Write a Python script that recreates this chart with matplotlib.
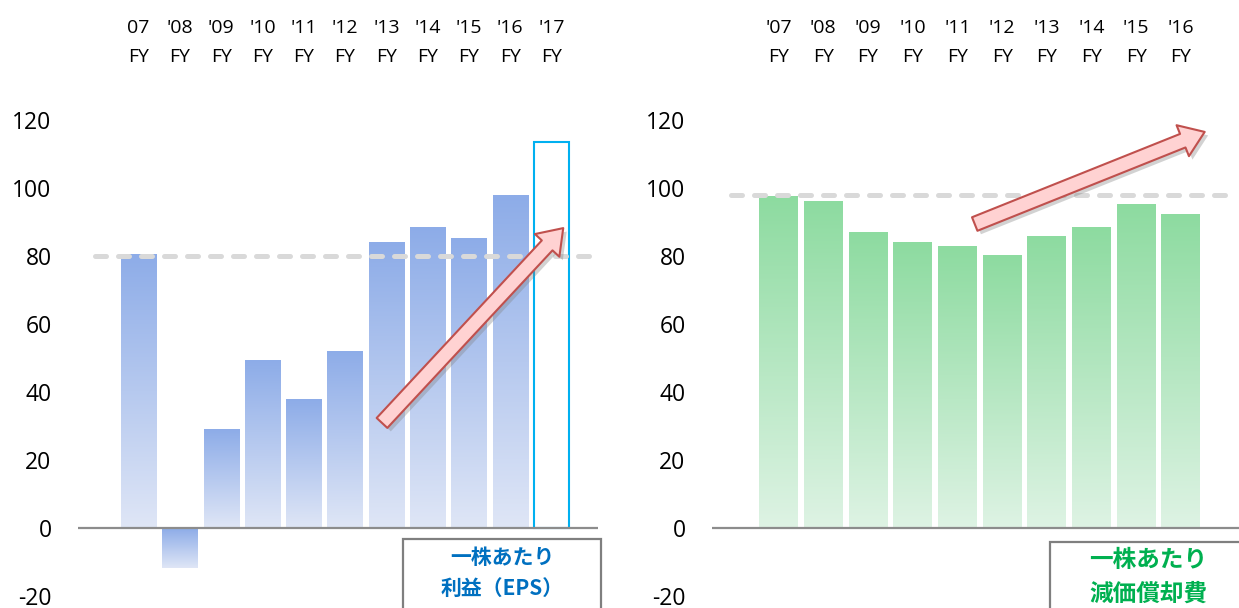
import numpy as np
import matplotlib
matplotlib.use("Agg")
import matplotlib.pyplot as plt
from matplotlib.colors import LinearSegmentedColormap
from matplotlib.patches import Rectangle, FancyArrowPatch
import matplotlib.patheffects as pe

# ---- data -------------------------------------------------------------
eps_labels = ["07\nFY", "'08\nFY", "'09\nFY", "'10\nFY", "'11\nFY", "'12\nFY",
              "'13\nFY", "'14\nFY", "'15\nFY", "'16\nFY", "'17\nFY"]
eps_values = [80.6, -11.7, 29.1, 49.4, 37.9, 52.1, 84.1, 88.5, 85.3, 97.9]
eps_forecast = 113.4          # '17 FY, drawn as an outline bar
eps_reference = 80

dep_labels = ["'07\nFY", "'08\nFY", "'09\nFY", "'10\nFY", "'11\nFY", "'12\nFY",
              "'13\nFY", "'14\nFY", "'15\nFY", "'16\nFY"]
dep_values = [97.6, 96.2, 87.1, 84.1, 82.9, 80.3, 85.9, 88.5, 95.2, 92.4]
dep_reference = 98

y_ticks = [-20, 0, 20, 40, 60, 80, 100, 120]

# ---- style ------------------------------------------------------------
plt.rcParams["font.family"] = ["Open Sans", "DejaVu Sans"]
W, H = 1239, 608
fig = plt.figure(figsize=(W / 100, H / 100), dpi=100)

blue_cmap = LinearSegmentedColormap.from_list("b", ["#DFE6F6", "#8DACE8"])
green_cmap = LinearSegmentedColormap.from_list("g", ["#DEF3E4", "#8DDBA0"])
grad = np.linspace(0, 1, 256).reshape(-1, 1)


def px_axes(left, right, top, bottom):
    return fig.add_axes([left / W, (H - bottom) / H, (right - left) / W, (bottom - top) / H])


def gradient_bars(ax, xs, vals, width, cmap):
    bars = ax.bar(xs, vals, width=width, color="none", edgecolor="none")
    for b, v in zip(bars, vals):
        x0 = b.get_x()
        lo, hi = min(0, v), max(0, v)
        im = ax.imshow(grad, extent=[x0, x0 + width, lo, hi], origin="lower",
                       cmap=cmap, aspect="auto", interpolation="bilinear", zorder=2)
        im.set_clip_path(b)
    return bars


def style_axes(ax, labels, xlim):
    ax.set_xlim(*xlim)
    ax.set_ylim(-20, 120)
    ax.set_yticks(y_ticks)
    ax.set_yticklabels([str(t) for t in y_ticks], fontsize=16.5)
    ax.tick_params(axis="y", length=0, pad=19)
    ax.set_xticks(range(len(labels)))
    ax.set_xticklabels(labels, fontsize=14)
    ax.xaxis.tick_top()
    ax.tick_params(axis="x", length=0, pad=39)
    for lbl in ax.get_xticklabels():
        lbl.set_linespacing(1.78)
    for s in ax.spines.values():
        s.set_visible(False)
    ax.axhline(0, color="#8C8C8C", lw=1.6, zorder=3)
    ax.patch.set_alpha(0)


def ref_line(ax, y, x0, x1):
    ln, = ax.plot([x0, x1], [y, y], color="#D9D9D9", lw=3.6, zorder=4,
                  solid_capstyle="round", dash_capstyle="round")
    ln.set_dashes((2.2, 2.4))


def trend_arrow(ax, start, end):
    arr = FancyArrowPatch(start, end, arrowstyle="simple,tail_width=10.5,head_width=24,head_length=17",
                          mutation_scale=1, facecolor="#FFD2D2", edgecolor="#C0504D",
                          lw=1.5, zorder=6, clip_on=False,
                          path_effects=[pe.SimplePatchShadow(offset=(2.5, -2.5), shadow_rgbFace="#808080", alpha=0.35),
                                        pe.Normal()])
    ax.add_patch(arr)


# ---- left: EPS --------------------------------------------------------
ax1 = px_axes(78, 598, 120, 596)
n1 = len(eps_values)
gradient_bars(ax1, np.arange(n1), eps_values, 0.85, blue_cmap)
ax1.bar([n1], [eps_forecast], width=0.85, facecolor="white", edgecolor="#00B0F0",
        lw=1.5, zorder=2)
style_axes(ax1, eps_labels, (-1.465, 11.126))
ref_line(ax1, eps_reference, -1.05, 11.1)
trend_arrow(ax1, (5.85, 30.3), (10.33, 88.8))

# ---- right: depreciation per share -------------------------------------
ax2 = px_axes(712, 1239, 120, 596)
gradient_bars(ax2, np.arange(len(dep_values)), dep_values, 0.87, green_cmap)
style_axes(ax2, dep_labels, (-1.49, 10.30))
ref_line(ax2, dep_reference, -1.07, 10.1)
trend_arrow(ax2, (4.33, 89.1), (9.59, 116.8))

# ---- caption boxes ----------------------------------------------------
cjk = ["Noto Sans CJK JP", "DejaVu Sans"]
fig.patches.append(Rectangle((403 / W, -0.05), 198 / W, (H - 539) / H + 0.05,
                             transform=fig.transFigure, facecolor="white",
                             edgecolor="#7F7F7F", lw=1.6, zorder=10))
fig.text(502 / W, (H - 557) / H, "一株あたり", ha="center", va="center",
         fontsize=15, fontweight="bold", color="#0070C0", family=cjk, zorder=11)
fig.text(502 / W, (H - 588) / H, "利益（EPS）", ha="center", va="center",
         fontsize=15, fontweight="bold", color="#0070C0", family=cjk, zorder=11)

fig.patches.append(Rectangle((1050 / W, -0.05), 0.2, (H - 542) / H + 0.05,
                             transform=fig.transFigure, facecolor="white",
                             edgecolor="#7F7F7F", lw=1.6, zorder=10))
fig.text(1148 / W, (H - 560) / H, "一株あたり", ha="center", va="center",
         fontsize=17, fontweight="bold", color="#00B050", family=cjk, zorder=11)
fig.text(1148 / W, (H - 594) / H, "減価償却費", ha="center", va="center",
         fontsize=17, fontweight="bold", color="#00B050", family=cjk, zorder=11)

fig.savefig("out.png", dpi=100, facecolor="white")
